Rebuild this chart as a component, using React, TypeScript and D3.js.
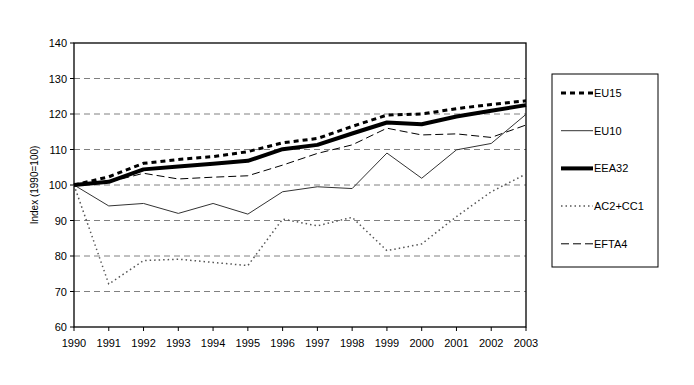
import React from "react";
import * as d3 from "d3";

const years = [1990,1991,1992,1993,1994,1995,1996,1997,1998,1999,2000,2001,2002,2003];
const eu15 = [100,102.3,106.1,107.2,108,109.4,111.9,113.1,116.5,119.7,120,121.5,122.7,123.7];
const eu10 = [100,94.1,94.8,92,94.8,91.8,98.1,99.5,99,109,101.9,109.9,111.7,119.9];
const eea32 = [100,100.9,104.4,105.2,106,106.8,110.1,111.3,114.5,117.6,117.1,119.3,120.9,122.5];
const ac2cc1 = [100,72.1,78.7,79.1,78.2,77.3,90.4,88.5,90.9,81.5,83.4,91.1,98.1,103.1];
const efta4 = [100,100.8,103.3,101.7,102.2,102.6,105.6,108.9,111.3,116,114.1,114.4,113.4,116.9];
const yTicks = [60,70,80,90,100,110,120,130,140];

const seriesNames = ["EU15","EU10","EEA32","AC2+CC1","EFTA4"];

type Style = { w: number; dash: string; color: string };
const styles: Style[] = [
  { w: 3, dash: "5,4", color: "#000" },
  { w: 1, dash: "", color: "#333" },
  { w: 4, dash: "", color: "#000" },
  { w: 1.5, dash: "1.5,3", color: "#555" },
  { w: 1, dash: "8,4", color: "#000" },
];

export default function App() {
  const data = [eu15, eu10, eea32, ac2cc1, efta4];
  const left = 74, right = 526, top = 43, bottom = 327;
  const x = d3.scaleLinear().domain([1990, 2003]).range([left, right]);
  const y = d3.scaleLinear().domain([60, 140]).range([bottom, top]);
  const line = d3.line<number>().x((_, i) => x(years[i])).y((d) => y(d));
  const font = "'Liberation Sans', Arial, sans-serif";
  const order = [4, 3, 1, 0, 2];
  return (
    <svg width={694} height={385} style={{ position: "absolute", left: 0, top: 0, background: "#fff" }} fontFamily={font}>
      <rect x={0} y={0} width={694} height={385} fill="#fff" />
      {yTicks.filter((t) => t > 60 && t < 140).map((t) => (
        <line key={t} x1={left} x2={right} y1={y(t)} y2={y(t)} stroke="#808080" strokeWidth={1} strokeDasharray="6,4" />
      ))}
      <rect x={left} y={top} width={right - left} height={bottom - top} fill="none" stroke="#000" strokeWidth={1.3} />
      {yTicks.map((t) => (
        <g key={t}>
          <line x1={left - 4} x2={left} y1={y(t)} y2={y(t)} stroke="#000" />
          <text x={left - 7} y={y(t) + 4} textAnchor="end" fontSize={11}>{t}</text>
        </g>
      ))}
      {years.map((yr) => (
        <g key={yr}>
          <line x1={x(yr)} x2={x(yr)} y1={bottom} y2={bottom + 4} stroke="#000" />
          <text x={x(yr)} y={bottom + 20} textAnchor="middle" fontSize={11}>{yr}</text>
        </g>
      ))}
      <text transform={`translate(38,${(top + bottom) / 2}) rotate(-90)`} textAnchor="middle" fontSize={10}>Index (1990=100)</text>
      {order.map((i) => (
        <path key={i} d={line(data[i]) || ""} fill="none" stroke={styles[i].color} strokeWidth={styles[i].w} strokeDasharray={styles[i].dash} strokeLinejoin="round" />
      ))}
      <rect x={552} y={74} width={106} height={193} fill="#fff" stroke="#000" strokeWidth={1} />
      {seriesNames.map((n, i) => {
        const ly = 93 + i * 37.7;
        return (
          <g key={n}>
            <line x1={561} x2={593} y1={ly} y2={ly} stroke={styles[i].color} strokeWidth={styles[i].w} strokeDasharray={styles[i].dash} />
            <text x={594} y={ly + 4} fontSize={11}>{n}</text>
          </g>
        );
      })}
    </svg>
  );
}
